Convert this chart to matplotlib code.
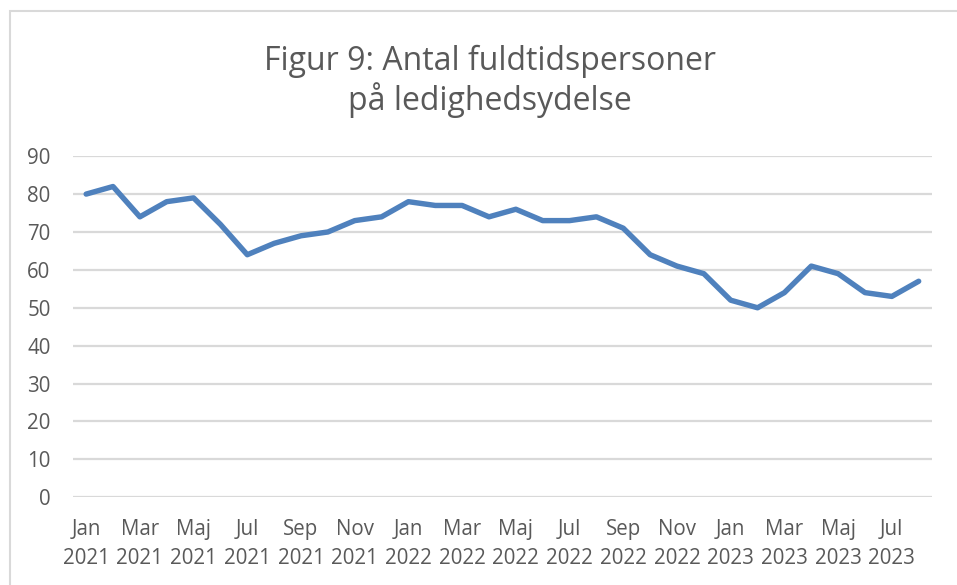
import numpy as np
import matplotlib.pyplot as plt
from matplotlib.patches import Rectangle

# monthly values, Jan 2021 - Aug 2023
months = ['Jan', 'Feb', 'Mar', 'Apr', 'Maj', 'Jun', 'Jul', 'Aug', 'Sep', 'Okt', 'Nov', 'Dec']
years = [2021, 2022, 2023]
values = [80, 82, 74, 78, 79, 72, 64, 67, 69, 70, 73, 74,
          78, 77, 77, 74, 76, 73, 73, 74, 71, 64, 61, 59,
          52, 50, 54, 61, 59, 54, 53, 57]
labels = [f'{months[i % 12]}\n{years[i // 12]}' for i in range(len(values))]

title = 'Figur 9: Antal fuldtidspersoner\npå ledighedsydelse'
grey = '#595959'

plt.rcParams['font.family'] = ['Open Sans', 'DejaVu Sans']

fig = plt.figure(figsize=(9.57, 5.85), dpi=100)
ax = fig.add_axes([0.076, 0.150, 0.898, 0.583])

x = np.arange(len(values))
ax.plot(x, values, color='#4f81bd', linewidth=3.9, solid_joinstyle='round', solid_capstyle='round')

ax.set_xlim(-0.5, len(values) - 0.5)
ax.set_ylim(0, 90)
ax.set_yticks(np.arange(0, 91, 10))
ax.set_xticks(x[::2])
ax.set_xticklabels(labels[::2], linespacing=1.45)
ax.tick_params(axis='both', length=0, labelsize=14.8, colors=grey)
ax.tick_params(axis='y', pad=16)
ax.tick_params(axis='x', pad=16)
ax.grid(axis='y', color='#d9d9d9', linewidth=1.6)
ax.set_axisbelow(True)
for s in ax.spines.values():
    s.set_visible(False)

fig.text(0.512, 0.861, title, ha='center', va='center', fontsize=23, color=grey, linespacing=1.18)

# chart frame
fig.patches.append(Rectangle((10 / 957, -0.1), 1.2, 1 - 11 / 585 + 0.1, transform=fig.transFigure,
                             fill=False, edgecolor='#d9d9d9', linewidth=1.5))

fig.savefig('out.png', dpi=100)
